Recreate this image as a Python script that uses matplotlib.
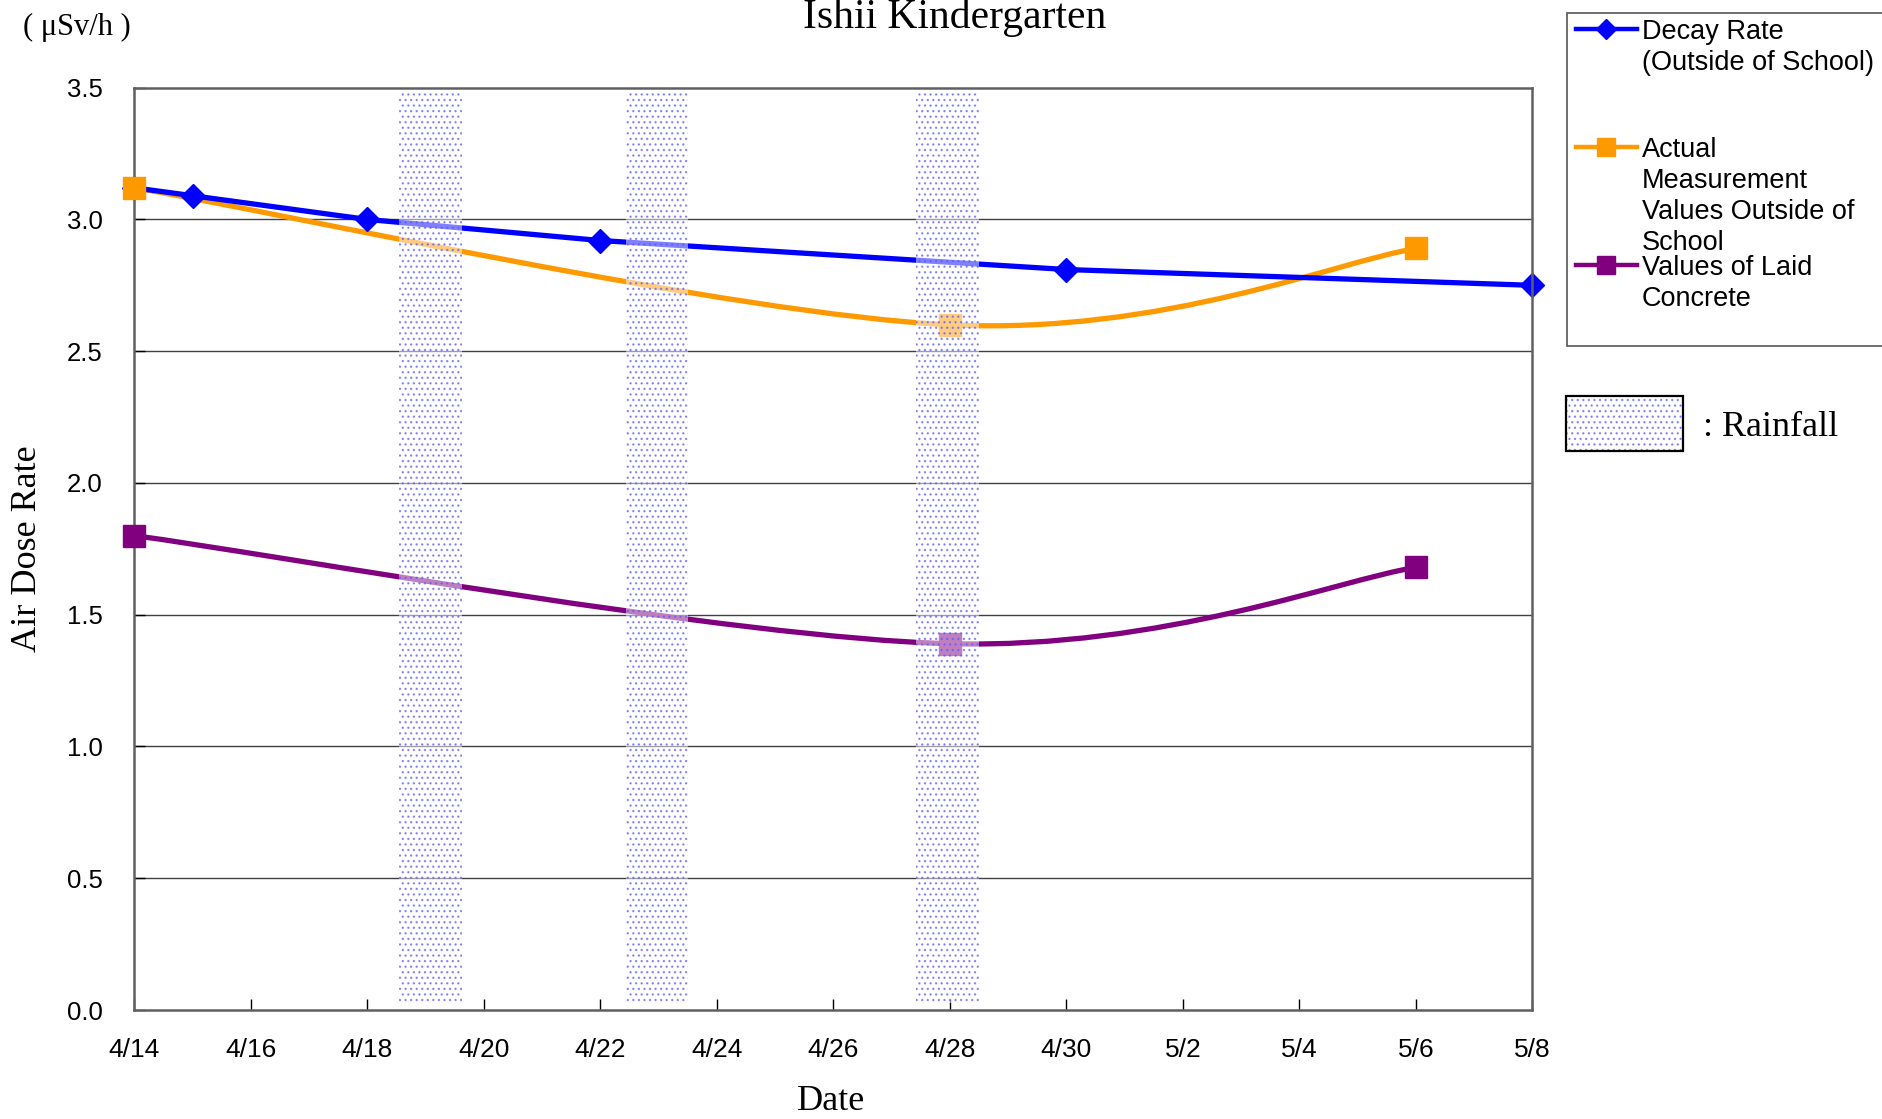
import matplotlib
matplotlib.use("Agg")
import matplotlib.pyplot as plt
from matplotlib.path import Path
from matplotlib.patches import PathPatch, Rectangle
from matplotlib.lines import Line2D

# ---------------- data ----------------
# x = days since 4/14
tick_days = [0, 2, 4, 6, 8, 10, 12, 14, 16, 18, 20, 22, 24]
tick_labels = ["4/14", "4/16", "4/18", "4/20", "4/22", "4/24", "4/26",
               "4/28", "4/30", "5/2", "5/4", "5/6", "5/8"]
y_ticks = [0.0, 0.5, 1.0, 1.5, 2.0, 2.5, 3.0, 3.5]

decay_days = [0, 1, 4, 8, 16, 24]
decay_vals = [3.12, 3.09, 3.00, 2.92, 2.81, 2.75]

actual_days = [0, 14, 22]
actual_vals = [3.12, 2.60, 2.89]

concrete_days = [0, 14, 22]
concrete_vals = [1.80, 1.39, 1.68]

rain_days = [5.08, 8.97, 13.95]   # centres of rainfall bands
rain_halfwidth = 0.54

title = "Ishii Kindergarten"
unit_label = "( μSv/h )"
ylabel = "Air Dose Rate"
xlabel = "Date"
legend_labels = [["Decay Rate", "(Outside of School)"],
                 ["Actual", "Measurement", "Values Outside of", "School"],
                 ["Values of Laid", "Concrete"]]
rain_label = ": Rainfall"

BLUE = "#0000FF"
ORANGE = "#FF9900"
PURPLE = "#800080"
HATCH_C = (0.35, 0.35, 1.0, 0.65)

plt.rcParams["hatch.linewidth"] = 0.9
SERIF = ["Liberation Serif", "DejaVu Serif"]
SANS = ["Liberation Sans", "DejaVu Sans"]

W, H = 1883, 1119
fig = plt.figure(figsize=(W / 100, H / 100), dpi=100)
ax = fig.add_axes([134.5 / W, 1 - 1010 / H, (1532.5 - 134.5) / W, (1010 - 87.7) / H])
ax.set_xlim(0, 24)
ax.set_ylim(0, 3.5)


def smooth_path(xs, ys):
    pts = list(zip(xs, ys))
    n = len(pts)
    verts = [pts[0]]
    codes = [Path.MOVETO]
    for i in range(n - 1):
        p0 = pts[i - 1] if i > 0 else pts[i]
        p1 = pts[i]
        p2 = pts[i + 1]
        p3 = pts[i + 2] if i + 2 < n else pts[i + 1]
        c1 = (p1[0] + (p2[0] - p0[0]) / 6, p1[1] + (p2[1] - p0[1]) / 6)
        c2 = (p2[0] - (p3[0] - p1[0]) / 6, p2[1] - (p3[1] - p1[1]) / 6)
        verts += [c1, c2, p2]
        codes += [Path.CURVE4] * 3
    return Path(verts, codes)


# grid
for yv in y_ticks[1:-1]:
    ax.axhline(yv, color="#404040", lw=1.0, zorder=1)

# series
ax.plot(decay_days, decay_vals, color=BLUE, lw=3.8, zorder=3,
        solid_capstyle="butt")
ax.plot(decay_days, decay_vals, linestyle="none", marker="D", ms=12.5,
        color=BLUE, zorder=3, clip_on=False)
for xs, ys, col in [(actual_days, actual_vals, ORANGE),
                    (concrete_days, concrete_vals, PURPLE)]:
    ax.add_patch(PathPatch(smooth_path(xs, ys), facecolor="none", edgecolor=col,
                           lw=3.8, zorder=2, transform=ax.transData))
    ax.plot(xs, ys, linestyle="none", marker="s", ms=16, color=col, zorder=4,
            clip_on=False)

# rainfall bands
for d in rain_days:
    ax.axvspan(d - rain_halfwidth, d + rain_halfwidth, ymin=0.008, ymax=0.995,
               facecolor=(1, 1, 1, 0.5), edgecolor=HATCH_C, hatch="...",
               lw=0, zorder=5)

# axes styling
for s in ax.spines.values():
    s.set_color("#606060")
    s.set_linewidth(1.8)
    s.set_zorder(3.5)
ax.set_xticks(tick_days)
ax.set_xticklabels(tick_labels, fontfamily=SANS, fontsize=19)
ax.set_yticks(y_ticks)
ax.set_yticklabels([f"{v:.1f}" for v in y_ticks], fontfamily=SANS, fontsize=18.5)
ax.tick_params(axis="x", direction="in", length=8, width=1, pad=20, colors="black")
ax.tick_params(axis="y", direction="in", length=8, width=1, pad=23, colors="black")

# texts
fig.text(955 / W, 1 - 28 / H, title, ha="center", va="baseline",
         fontfamily=SERIF, fontsize=30)
fig.text(77 / W, 1 - 35 / H, unit_label, ha="center", va="baseline",
         fontfamily=SERIF, fontsize=22)
fig.text(28 / W, 1 - 549 / H, ylabel, ha="center", va="center", rotation=90,
         fontfamily=SERIF, fontsize=26)
fig.text(831 / W, 1 - 1101 / H, xlabel, ha="center", va="center",
         fontfamily=SERIF, fontsize=26)

# legend overlay (pixel coordinates)
lax = fig.add_axes([0, 0, 1, 1], zorder=10)
lax.set_xlim(0, W)
lax.set_ylim(H, 0)
lax.axis("off")
lax.add_patch(Rectangle((1567, 13), 340, 333, facecolor="white",
                        edgecolor="#555555", lw=1.2, clip_on=False))
entries = [(BLUE, "D", 10.5, 29), (ORANGE, "s", 13.5, 147), (PURPLE, "s", 13.5, 265)]
for (col, mk, ms, yy), lines in zip(entries, legend_labels):
    lax.add_line(Line2D([1576, 1637], [yy, yy], color=col, lw=3.2))
    lax.add_line(Line2D([1606.5], [yy], color=col, marker=mk, ms=ms, linestyle="none"))
    for k, t in enumerate(lines):
        lax.text(1642, yy + 3 + k * 31, t, ha="left", va="center",
                 fontfamily=SANS, fontsize=19.5)
lax.add_patch(Rectangle((1566, 396), 117, 55, facecolor="white",
                        edgecolor=HATCH_C, hatch="...", lw=0))
lax.add_patch(Rectangle((1566, 396), 117, 55, facecolor="none",
                        edgecolor="black", lw=1.6))
lax.text(1703, 427, rain_label, ha="left", va="center",
         fontfamily=SERIF, fontsize=26)

fig.savefig("out.png", dpi=100)
